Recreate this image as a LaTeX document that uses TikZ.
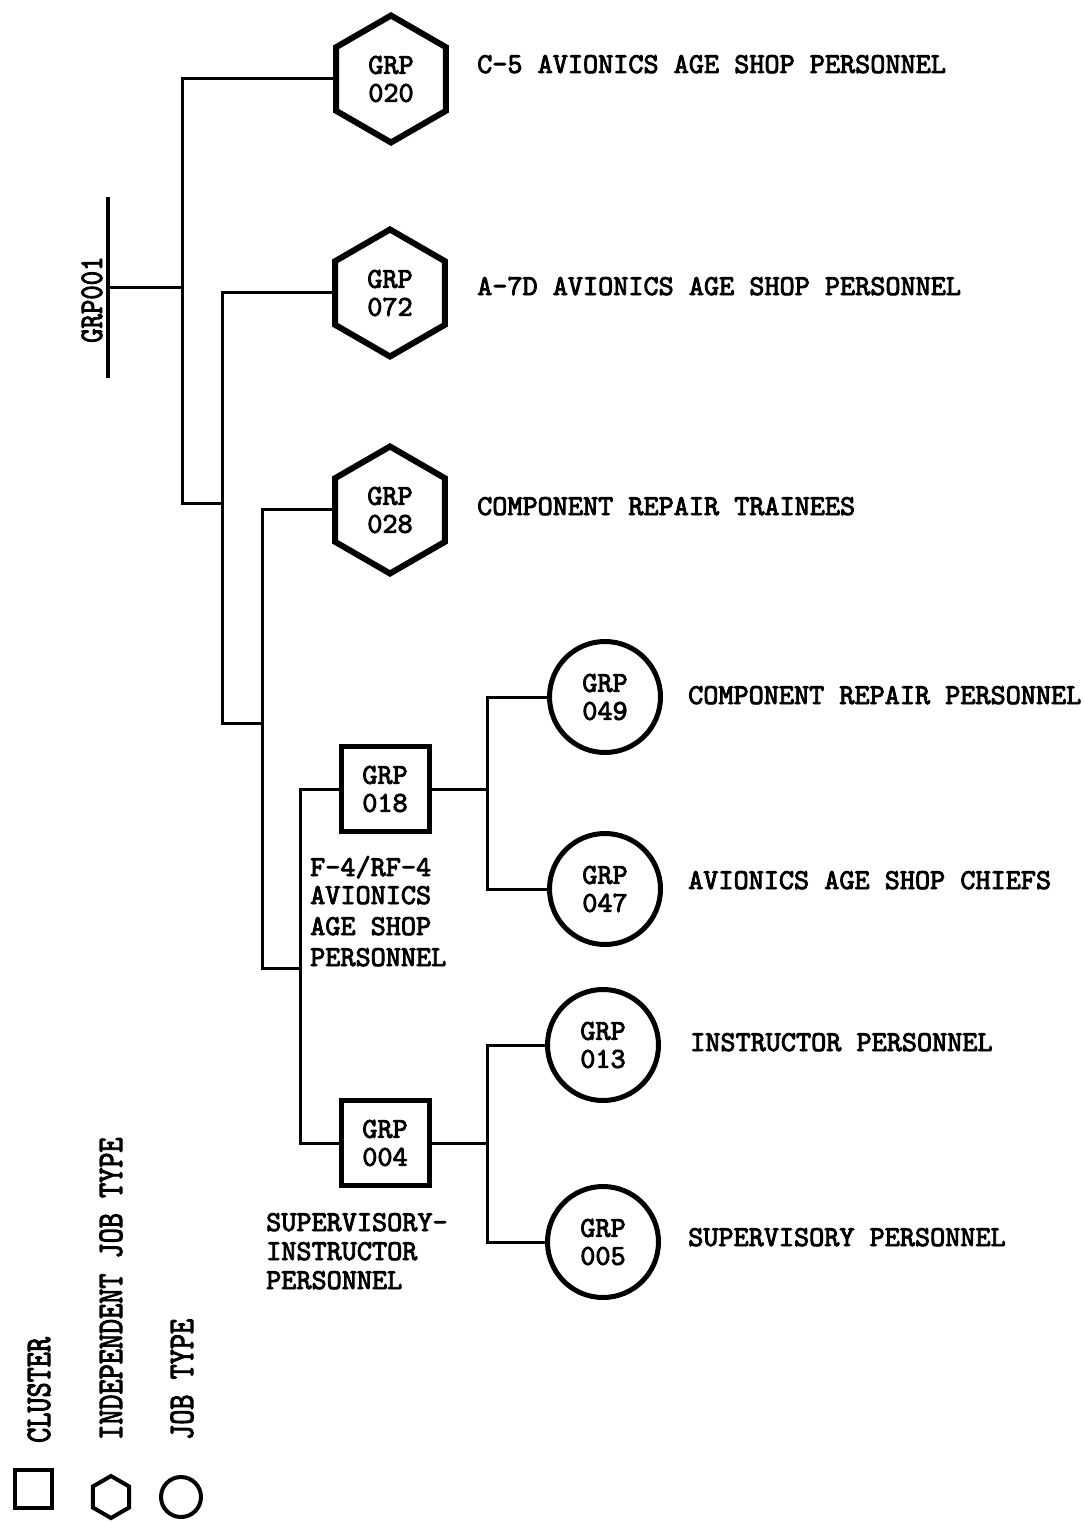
\documentclass[tikz,border=0pt]{standalone}
\usepackage{graphicx}
\usepackage{fontspec}
\newfontfamily\twfam[FakeBold=3]{lmmono10-regular.otf}
\usetikzlibrary{shapes.geometric}
\newcommand{\twfont}{\twfam\fontsize{28.8}{28}\selectfont}
\newcommand{\lgfont}{\twfam\fontsize{36}{36}\selectfont}
\begin{document}
\begin{tikzpicture}[x=1pt,y=-1pt,
  conn/.style={line width=3pt},
  txt/.style={font=\twfont, inner sep=0pt, anchor=base west},
  lgtxt/.style={font=\lgfont, inner sep=0pt, anchor=base west, rotate=90},
  shapetext/.style={font=\twfont, align=center, inner sep=0pt},
  hexnode/.style={shapetext, draw, line width=6pt, regular polygon, regular polygon sides=6, shape border rotate=30, minimum size=127pt},
  circnode/.style={shapetext, draw, line width=5pt, circle, minimum size=111pt},
  sqnode/.style={shapetext, draw, line width=5pt, rectangle, minimum width=88pt, minimum height=85pt},
]
\useasboundingbox (0,0) rectangle (1084,1522);

% shapes
\node[hexnode] (h020) at (391,79) {GRP\\020};
\node[hexnode] (h072) at (390,293) {GRP\\072};
\node[hexnode] (h028) at (390,510) {GRP\\028};
\node[sqnode] (s018) at (385,789) {GRP\\018};
\node[sqnode] (s004) at (385,1143) {GRP\\004};
\node[circnode] (c049) at (605,697) {GRP\\049};
\node[circnode] (c047) at (605,889) {GRP\\047};
\node[circnode] (c013) at (603,1045) {GRP\\013};
\node[circnode] (c005) at (603,1242) {GRP\\005};

% root bar
\coordinate (bartop) at (108,197);
\coordinate (barbot) at (108,378);
\coordinate (g001) at (108,287);
\draw[line width=4pt] (bartop) -- (barbot);
\node[lgtxt, font=\twfam\fontsize{33}{33}\selectfont] (l001) at (102,343) {\scalebox{0.83}[1]{GRP001}};

% junctions
\coordinate (j0) at (182,287);
\coordinate (k1) at (182,503);
\coordinate (k1e) at (222,503);
\coordinate (k2) at (222,723);
\coordinate (k2e) at (262,723);
\coordinate (k3) at (262,968);
\coordinate (k3e) at (300,968);
\coordinate (k4) at (300,1000);
\coordinate (k5) at (487,789);
\coordinate (k6) at (487,1143);

\draw[conn] (g001) -- (j0);
\draw[conn] (h020.west) -| (k1) -- (k1e);
\draw[conn] (h072.west) -| (k2) -- (k2e);
\draw[conn] (h028.west) -| (k3) -- (k3e);
\draw[conn] (s018.west) -| (k4) |- (s004.west);
\draw[conn] (s018.east) -- (k5);
\draw[conn] (c049.west) -| (k5) |- (c047.west);
\draw[conn] (s004.east) -- (k6);
\draw[conn] (c013.west) -| (k6) |- (c005.west);

% labels
\node[txt] (t020) at (477,73) {C-5 AVIONICS AGE SHOP PERSONNEL};
\node[txt] (t072) at (477,295) {A-7D AVIONICS AGE SHOP PERSONNEL};
\node[txt] (t028) at (477,515) {COMPONENT REPAIR TRAINEES};
\node[txt] (t049) at (688,704) {COMPONENT REPAIR PERSONNEL};
\node[txt] (t047) at (688,889) {AVIONICS AGE SHOP CHIEFS};
\node[txt] (t013) at (690,1051) {INSTRUCTOR PERSONNEL};
\node[txt] (t005) at (688,1246) {SUPERVISORY PERSONNEL};

\node[txt] (t018a) at (310,876) {F-4/RF-4};
\node[txt] (t018b) at (310,904) {AVIONICS};
\node[txt] (t018c) at (310,935) {AGE SHOP};
\node[txt] (t018d) at (310,966) {PERSONNEL};

\node[txt] (t004a) at (266,1231) {SUPERVISORY-};
\node[txt] (t004b) at (266,1260) {INSTRUCTOR};
\node[txt] (t004c) at (266,1289) {PERSONNEL};

% legend
\node[draw, line width=4pt, minimum width=37pt, minimum height=38pt, inner sep=0pt] (lgsq) at (33,1489) {};
\node[draw, line width=4pt, regular polygon, regular polygon sides=6, shape border rotate=30, minimum size=42pt, inner sep=0pt] (lghex) at (111,1497) {};
\node[draw, line width=4pt, circle, minimum size=40pt, inner sep=0pt] (lgcirc) at (181,1497) {};
\node[lgtxt] (lgt1) at (50,1443) {\scalebox{0.8}[1]{CLUSTER}};
\node[lgtxt] (lgt2) at (122,1440) {\scalebox{0.8}[1]{INDEPENDENT JOB TYPE}};
\node[lgtxt] (lgt3) at (193,1440) {\scalebox{0.8}[1]{JOB TYPE}};
\end{tikzpicture}
\end{document}
